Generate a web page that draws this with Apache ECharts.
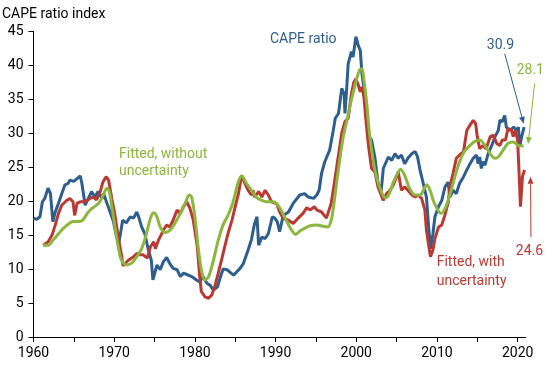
<!DOCTYPE html>
<html>
<head>
<meta charset="utf-8">
<script src="https://cdn.jsdelivr.net/npm/echarts@6/dist/echarts.min.js"></script>
<style>
html,body{margin:0;padding:0;background:#fff;}
#chart{width:550px;height:365px;}
</style>
</head>
<body>
<div id="chart"></div>
<script>
// ---- Data ----
const capeYears = [1960.0,1960.4,1960.8,1961.1,1961.4,1961.8,1962.1,1962.4,1962.7,1963.1,1963.5,1963.9,1964.3,1964.5,1965.0,1965.4,1965.8,1966.0,1966.4,1966.8,1967.2,1967.6,1968.0,1968.5,1968.7,1969.1,1969.5,1969.9,1970.3,1970.6,1971.05,1971.5,1972.0,1972.4,1972.8,1973.0,1973.4,1973.8,1974.2,1974.6,1974.8,1975.3,1975.7,1976.1,1976.5,1976.9,1977.3,1977.8,1978.2,1978.6,1979.0,1979.6,1980.2,1980.6,1981.0,1981.5,1981.9,1982.3,1982.8,1983.1,1983.5,1984.0,1984.3,1984.8,1985.2,1985.6,1986.0,1986.6,1987.0,1987.4,1987.7,1987.9,1988.3,1988.7,1989.1,1989.6,1989.9,1990.2,1990.5,1990.96,1991.6,1992.2,1993.0,1993.6,1994.05,1994.7,1995.1,1995.4,1995.7,1996.1,1996.7,1997.15,1997.4,1997.8,1998.2,1998.5,1998.6,1998.8,1999.0,1999.4,1999.6,1999.96,2000.25,2000.5,2000.7,2001.1,2001.5,2001.9,2002.3,2002.7,2003.1,2003.35,2003.97,2004.4,2004.8,2005.2,2005.6,2006.0,2006.4,2006.9,2007.3,2007.6,2007.9,2008.3,2008.7,2008.95,2009.2,2009.5,2009.75,2010.2,2010.6,2011.0,2011.4,2011.6,2012.0,2012.4,2012.8,2013.3,2013.7,2014.1,2014.5,2014.9,2015.1,2015.3,2015.5,2015.7,2015.95,2016.35,2016.8,2017.2,2017.6,2017.8,2018.1,2018.4,2018.6,2019.05,2019.5,2019.9,2020.1,2020.25,2020.5,2020.8];
const capeValues = [17.5,17.3,17.7,19.9,20.4,21.9,21.1,17.0,18.4,19.7,21.1,22.4,22.6,23.1,22.9,23.3,23.7,22.6,19.4,20.4,21.4,20.6,21.4,20.4,21.1,19.7,18.4,17.0,14.7,14.0,17.2,16.8,17.7,17.5,18.4,17.8,16.2,15.2,13.0,11.3,8.4,10.6,9.9,11.1,11.7,10.8,10.1,9.9,8.9,9.4,9.2,8.9,8.4,8.1,8.9,7.9,7.6,6.9,7.4,8.6,10.0,9.9,9.6,9.1,9.6,10.1,10.8,12.8,14.3,16.7,17.7,13.5,14.7,14.5,15.2,17.7,17.5,17.0,15.5,17.9,18.4,19.7,20.9,21.1,20.6,20.4,20.9,21.6,24.1,25.8,27.5,30.4,32.2,32.9,36.6,35.8,32.9,36.3,40.2,42.0,41.2,44.2,42.9,42.2,38.8,35.3,29.5,29.0,26.5,22.6,21.6,24.8,26.5,26.0,27.0,26.3,26.8,25.5,26.3,27.0,27.3,26.5,24.6,22.6,20.6,16.5,13.0,15.2,17.7,19.2,20.1,22.1,22.8,20.6,21.6,21.1,22.6,23.6,24.6,25.5,26.3,26.8,25.5,26.5,24.8,25.8,25.3,27.0,28.2,29.5,30.4,31.9,31.7,32.6,30.9,30.4,30.9,30.4,30.9,28.0,29.5,30.9];

const withUncYears = [1961.2,1961.8,1962.3,1962.7,1963.1,1963.5,1964.1,1964.5,1964.9,1965.1,1965.4,1965.8,1966.2,1966.6,1967.0,1967.4,1967.8,1968.2,1968.6,1969.0,1969.3,1969.7,1970.1,1970.5,1970.9,1971.1,1971.75,1972.4,1972.8,1973.2,1973.6,1974.1,1974.5,1974.9,1975.1,1975.5,1976.1,1976.5,1976.9,1977.3,1977.8,1978.2,1978.6,1979.0,1979.4,1979.8,1980.3,1980.6,1980.8,1981.25,1981.7,1982.1,1982.5,1982.9,1983.3,1983.7,1984.1,1984.6,1985.0,1985.4,1985.8,1986.2,1986.6,1987.0,1987.2,1987.4,1987.9,1988.3,1988.7,1989.1,1989.5,1990.15,1990.5,1990.95,1991.6,1992.2,1992.8,1993.4,1993.85,1994.3,1994.8,1995.1,1995.7,1996.3,1996.5,1996.9,1997.4,1997.8,1998.2,1998.6,1999.0,1999.4,1999.7,1999.96,2000.25,2000.5,2000.7,2000.95,2001.2,2001.5,2001.9,2002.3,2002.7,2003.35,2003.75,2004.2,2004.6,2005.0,2005.2,2005.6,2006.0,2006.4,2006.9,2007.3,2007.7,2008.1,2008.5,2008.7,2009.0,2009.2,2009.5,2009.75,2010.2,2010.6,2011.0,2011.4,2011.6,2012.0,2012.4,2012.8,2013.3,2013.7,2014.1,2014.5,2014.8,2015.0,2015.3,2015.7,2016.1,2016.6,2017.0,2017.4,2017.8,2018.1,2018.5,2018.8,2019.25,2019.45,2019.7,2020.0,2020.2,2020.35,2020.6,2020.85];
const withUncValues = [13.5,14.0,15.0,16.5,18.2,19.4,20.1,20.4,19.9,17.9,19.7,19.9,19.9,20.1,20.4,20.6,20.2,21.1,22.8,23.6,23.1,20.4,17.9,14.7,12.1,10.5,11.3,11.8,12.3,12.1,12.1,11.6,13.3,14.0,13.0,14.3,15.7,16.5,16.2,17.2,18.7,18.2,19.2,19.9,18.9,17.2,13.3,8.9,6.7,5.9,5.7,6.2,7.6,9.4,11.3,13.3,15.2,17.2,19.2,21.1,23.8,22.6,21.6,20.9,21.6,20.6,21.4,20.6,21.6,20.9,19.9,19.6,18.4,17.5,17.2,16.7,17.5,18.2,19.0,18.7,19.2,18.7,18.4,17.5,17.5,19.7,23.6,26.8,30.0,31.7,32.2,35.8,37.5,38.0,37.1,36.1,36.8,35.3,31.9,28.3,24.8,24.3,22.1,20.1,21.1,21.6,22.4,23.6,24.3,21.6,22.1,21.6,20.9,20.6,20.9,20.4,18.7,15.7,13.3,11.8,12.8,14.5,16.2,16.5,18.0,19.8,22.1,24.1,26.3,26.8,27.3,30.4,31.2,31.9,31.4,29.5,27.7,28.2,27.7,29.5,29.7,28.5,28.2,29.0,29.0,30.7,30.4,29.5,30.4,29.0,23.6,19.2,23.6,24.6];

const noUncYears = [1961.2,1961.8,1962.45,1963.1,1963.7,1964.3,1964.9,1965.55,1966.0,1966.4,1966.8,1967.2,1967.8,1968.2,1968.65,1969.1,1969.4,1969.7,1970.1,1970.5,1970.9,1971.55,1972.2,1972.8,1973.4,1974.0,1974.5,1974.9,1975.3,1975.7,1976.3,1976.9,1977.5,1978.2,1978.8,1979.3,1979.6,1980.0,1980.4,1980.8,1981.25,1981.7,1982.3,1982.9,1983.5,1984.1,1984.6,1985.0,1985.4,1985.8,1986.4,1987.0,1987.6,1988.3,1988.9,1989.7,1990.3,1990.75,1991.4,1992.0,1992.5,1993.0,1993.6,1994.3,1995.1,1995.9,1996.5,1996.9,1997.15,1997.5,1998.0,1998.4,1998.85,1999.3,1999.9,2000.4,2000.7,2000.95,2001.3,2001.6,2002.1,2002.5,2003.2,2003.6,2004.0,2004.6,2005.2,2005.5,2006.0,2006.6,2007.3,2007.9,2008.45,2008.75,2009.15,2009.55,2010.0,2010.5,2011.0,2011.6,2012.2,2012.8,2013.4,2014.1,2014.7,2015.3,2015.95,2016.6,2017.2,2017.6,2018.2,2018.8,2019.45,2020.1,2020.75];
const noUncValues = [13.5,13.5,14.3,15.2,16.0,16.6,17.0,17.0,17.1,17.7,18.4,18.9,19.4,19.9,20.9,21.9,21.4,19.2,16.2,13.3,11.3,10.6,10.9,11.8,13.0,15.2,17.5,18.3,17.7,16.2,15.4,15.7,16.7,18.2,19.7,20.9,20.6,17.7,13.3,9.9,8.4,8.9,11.3,14.3,16.5,17.9,19.4,21.1,22.9,23.7,22.6,21.6,20.6,20.1,19.9,19.9,19.4,18.5,17.0,15.7,15.1,15.6,16.0,16.4,16.5,16.3,16.2,17.2,18.9,22.1,26.5,29.5,31.9,34.4,37.3,39.3,39.5,37.8,34.4,30.4,26.0,23.6,21.1,20.5,20.9,22.8,24.3,24.7,23.8,21.9,20.9,20.9,21.9,22.4,21.6,20.1,18.9,18.2,18.9,20.9,23.5,25.8,27.3,28.2,28.8,29.0,28.2,27.0,26.3,26.5,27.5,28.5,28.7,28.2,28.1];

const xTickValues = [1960,1965,1970,1975,1980,1985,1990,1995,2000,2005,2010,2015,2020];
const xLabelValues = [1960,1970,1980,1990,2000,2010,2020];

const BLUE = '#2e5e8e', RED = '#ba3a33', GREEN = '#8cb63d';
const FONT = 'Roboto, "Noto Sans", sans-serif';

function zip(xs, ys){ return xs.map((x,i)=>[x, ys[i]]); }

const chart = echarts.init(document.getElementById('chart'), null, {renderer:'canvas'});
chart.setOption({
  animation: false,
  backgroundColor: '#fff',
  textStyle: {fontFamily: FONT},
  grid: {left: 33.5, right: 24.3, top: 31.3, bottom: 28, containLabel: false},
  xAxis: {
    type: 'value', min: 1960, max: 2021,
    axisLine: {show: true, onZero: false, lineStyle: {color: '#000', width: 1}},
    axisTick: {show: true, customValues: xTickValues, length: 5, lineStyle: {color: '#000'}},
    axisLabel: {customValues: xLabelValues, color: '#000', fontSize: 14, margin: 9, fontFamily: FONT,
                formatter: function(v){ return String(Math.round(v)); }},
    splitLine: {show: false}
  },
  yAxis: {
    type: 'value', min: 0, max: 45, interval: 5,
    axisLine: {show: true, lineStyle: {color: '#000', width: 1}},
    axisTick: {show: true, length: 5, lineStyle: {color: '#000'}},
    axisLabel: {color: '#000', fontSize: 14, margin: 10, fontFamily: FONT},
    splitLine: {show: false}
  },
  series: [
    {name: 'CAPE ratio', type: 'line', data: zip(capeYears, capeValues), showSymbol: false,
     lineStyle: {color: BLUE, width: 3}, itemStyle: {color: BLUE}, clip: false},
    {name: 'Fitted, with uncertainty', type: 'line', data: zip(withUncYears, withUncValues), showSymbol: false,
     lineStyle: {color: RED, width: 3}, itemStyle: {color: RED}, clip: false},
    {name: 'Fitted, without uncertainty', type: 'line', data: zip(noUncYears, noUncValues), showSymbol: false, smooth: 0.3,
     lineStyle: {color: GREEN, width: 3}, itemStyle: {color: GREEN}, clip: false}
  ]
});

// ---- Annotations ----
function arrow(from, to, color){
  const p1 = chart.convertToPixel({gridIndex: 0}, from);
  const p2 = chart.convertToPixel({gridIndex: 0}, to);
  const dx = p2[0]-p1[0], dy = p2[1]-p1[1];
  const len = Math.sqrt(dx*dx+dy*dy), ux = dx/len, uy = dy/len;
  const hl = 7, hw = 3;
  const bx = p2[0]-ux*hl, by = p2[1]-uy*hl;
  return [
    {type: 'line', silent: true, shape: {x1: p1[0], y1: p1[1], x2: bx, y2: by}, style: {stroke: color, lineWidth: 1}},
    {type: 'polygon', silent: true, shape: {points: [[p2[0],p2[1]],[bx-uy*hw, by+ux*hw],[bx+uy*hw, by-ux*hw]]}, style: {fill: color}}
  ];
}
function txt(s, x, y, color, align){
  return {type: 'text', silent: true, x: x, y: y,
    style: {text: s, fill: color, font: '14px ' + FONT, textAlign: align || 'left', textVerticalAlign: 'middle'}};
}
const g = [];
g.push(txt('CAPE ratio index', 2, 14.5, '#000'));
g.push(txt('CAPE ratio', 270, 39.5, BLUE));
g.push(txt('30.9', 500.5, 45.7, BLUE, 'center'));
g.push(txt('28.1', 530.3, 70.7, GREEN, 'center'));
g.push(txt('24.6', 529.5, 251.7, RED, 'center'));
g.push(txt('Fitted, without', 119, 154, GREEN));
g.push(txt('uncertainty', 119, 171.7, GREEN));
g.push(txt('Fitted, with', 436.7, 262.7, RED));
g.push(txt('uncertainty', 436.7, 281, RED));
g.push(...arrow([2018.4, 41.7], [2020.75, 31.4], BLUE));
g.push(...arrow([2022.1, 37.3], [2021.3, 28.4], GREEN));
g.push(...arrow([2021.65, 14.7], [2021.6, 23.6], RED));
chart.setOption({graphic: g});
</script>
</body>
</html>
